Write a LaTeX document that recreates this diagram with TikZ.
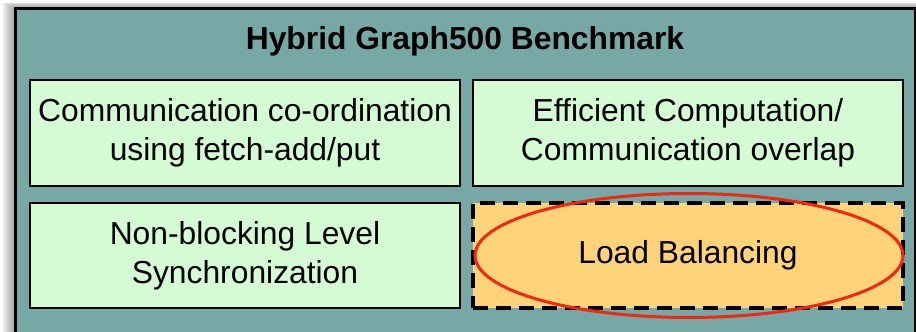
\documentclass[tikz,border=0pt]{standalone}
\usepackage{fontspec}
\setmainfont{Liberation Sans}
\usetikzlibrary{shapes.geometric}
\definecolor{tealbg}{RGB}{119,168,165}
\definecolor{greenbox}{RGB}{213,251,212}
\definecolor{orangebox}{RGB}{254,211,122}
\definecolor{redline}{RGB}{240,40,15}
\tikzset{
  x=1pt,y=-1pt,
  panel/.style={draw=black,line width=2.6pt,fill=greenbox,minimum width=430pt,minimum height=105pt,align=center,font=\fontsize{31.8}{39}\selectfont,inner sep=0pt},
  dpanel/.style={panel,fill=orangebox,line width=3.4pt,dash pattern=on 15pt off 8pt},
  ring/.style={draw=redline,line width=3pt,ellipse,minimum width=428pt,minimum height=124pt,inner sep=0pt}
}
\begin{document}
\begin{tikzpicture}
\useasboundingbox (0,0) rectangle (916,332);
\fill[white] (0,0) rectangle (916,332);
% soft shadow
\foreach \i/\o in {1/0.05,3/0.05,5/0.05,7/0.06,9/0.07,11/0.08}{
  \fill[black,opacity=\o] (14-\i,7-\i*0.4) rectangle (916,340);
}
\node[draw=black,line width=3pt,fill=tealbg,minimum width=900pt,minimum height=335pt,inner sep=0pt,anchor=north west] (outer) at (14,7) {};
\node[font=\bfseries\fontsize{31.8}{38}\selectfont] (title) at (465,41) {Hybrid Graph500 Benchmark};
\node[panel,minimum height=106pt] (comm) at (245,133) {Communication co-ordination\\using fetch-add/put};
\node[panel,minimum height=106pt] (comp) at (688,133) {Efficient Computation/\\Communication overlap};
\node[panel] (sync) at (245,255.5) {Non-blocking Level\\Synchronization};
\node[dpanel] (load) at (688,255.5) {Load Balancing};
\node[ring] (hl) at (689,255.5) {};
\end{tikzpicture}
\end{document}
